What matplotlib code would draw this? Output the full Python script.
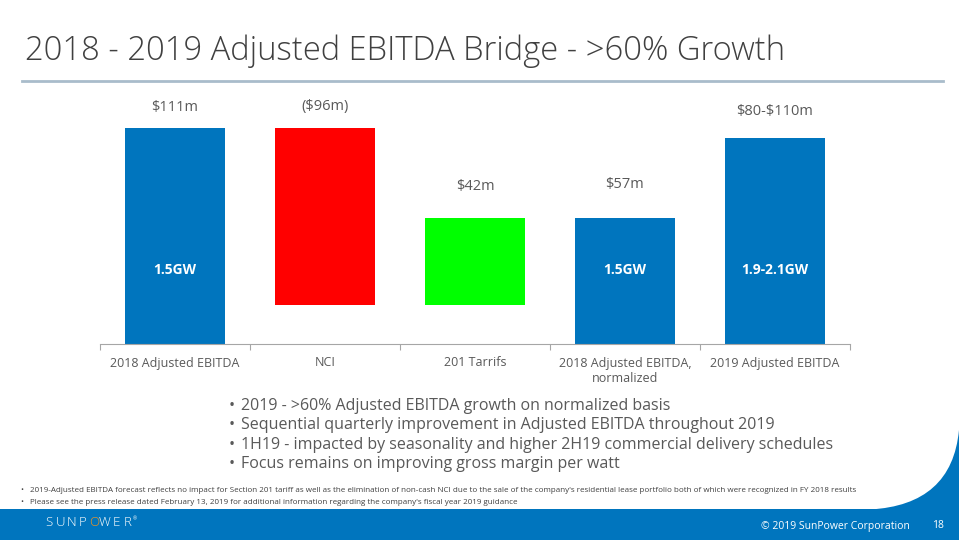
import matplotlib
matplotlib.use("Agg")
import matplotlib.pyplot as plt
from matplotlib.path import Path
from matplotlib.patches import PathPatch, Rectangle
import numpy as np

plt.rcParams['font.family'] = ['Open Sans', 'DejaVu Sans']

categories = ['2018 Adjusted EBITDA', 'NCI', '201 Tarrifs',
              '2018 Adjusted EBITDA,\nnormalized', '2019 Adjusted EBITDA']
bar_bottom = [0, 20, 20, 0, 0]
bar_top = [111, 111, 65, 65, 106]
value_labels = [r'\$111m', r'(\$96m)', r'\$42m', r'\$57m', r'\$80-\$110m']
inner_labels = ['1.5GW', '', '', '1.5GW', '1.9-2.1GW']
bullets = [
    '2019 - >60% Adjusted EBITDA growth on normalized basis',
    'Sequential quarterly improvement in Adjusted EBITDA throughout 2019',
    '1H19 - impacted by seasonality and higher 2H19 commercial delivery schedules',
    'Focus remains on improving gross margin per watt',
]
footnotes = [
    "2019-Adjusted EBITDA forecast reflects no impact for Section 201 tariff as well as the elimination of non-cash NCI due to the sale of the company's residential lease portfolio both of which were recognized in FY 2018 results",
    "Please see the press release dated February 13, 2019 for additional information regarding the company's fiscal year 2019 guidance",
]

BLUE = '#0075be'
colors = [BLUE, '#ff0000', '#00ff00', BLUE, BLUE]
GREY = '#595959'

W, H = 959, 540
fig = plt.figure(figsize=(W / 100, H / 100), dpi=100)

def fx(px):
    return px / W

def fy(py):
    return 1 - py / H

# title and rule
fig.text(fx(25), fy(51), '2018 - 2019 Adjusted EBITDA Bridge - >60% Growth',
         fontsize=23.6, color='#404040', fontweight='light', va='center', ha='left')
fig.add_artist(plt.Line2D([fx(22), fx(943)], [fy(81), fy(81)], color='#a9bccb', lw=2))

# bridge chart
ymax = 125
ax = fig.add_axes([fx(100), fy(344), fx(750), (ymax * 1.946) / H])
x = np.arange(len(categories))
heights = np.array(bar_top) - np.array(bar_bottom)
ax.bar(x, heights, bottom=bar_bottom, width=0.667, color=colors)
ax.set_xlim(-0.5, len(categories) - 0.5)
ax.set_ylim(0, ymax)

label_offsets = [20, 21, 31, 33, 26]
for i in range(len(categories)):
    ax.annotate(value_labels[i], (x[i], bar_top[i]), xytext=(0, label_offsets[i] * 0.72),
                textcoords='offset points', ha='center', va='center',
                fontsize=10.5, color=GREY)
    if inner_labels[i]:
        ax.text(x[i], 38, inner_labels[i], ha='center', va='center',
                fontsize=10, color='white', fontweight='bold')

for s in ['top', 'right', 'left']:
    ax.spines[s].set_visible(False)
ax.spines['bottom'].set_color('#a6a6a6')
ax.set_yticks([])
ax.set_xticks(np.arange(-0.5, len(categories)), minor=False)
ax.set_xticklabels([])
ax.tick_params(axis='x', length=4, color='#a6a6a6')
ax.set_xticks(x, minor=True)
ax.set_xticklabels(categories, minor=True)
ax.tick_params(axis='x', which='minor', length=0, pad=9, labelsize=9, labelcolor=GREY)

# bullet text
for i, b in enumerate(bullets):
    y = 406 + i * 19.3
    fig.text(fx(229), fy(y), '\u2022', fontsize=11.5, color=GREY, va='center')
    fig.text(fx(241), fy(y), b, fontsize=11.5, color=GREY, va='center')

for i, t in enumerate(footnotes):
    y = 491 + i * 11
    fig.text(fx(20), fy(y), '\u2022', fontsize=5.8, color='#404040', va='center')
    fig.text(fx(30), fy(y), t, fontsize=5.8, color='#404040', va='center')

# footer band and corner curve
fig.add_artist(Rectangle((0, 0), 1, fy(509), transform=fig.transFigure, color=BLUE, lw=0))
verts = [(fx(870), fy(509.5)), (fx(952), fy(505)), (fx(959), fy(430)),
         (fx(960), fy(430)), (fx(960), fy(510)), (fx(870), fy(510))]
codes = [Path.MOVETO, Path.CURVE3, Path.CURVE3, Path.LINETO, Path.LINETO, Path.CLOSEPOLY]
fig.add_artist(PathPatch(Path(verts, codes), transform=fig.transFigure,
                         facecolor=BLUE, edgecolor='none'))

logo = 'SUNPOWER'
for k, ch in enumerate(logo):
    c = '#f7941d' if k == 4 else 'white'
    fig.text(fx(49 + k * 11.2), fy(523), ch, fontsize=9.5, color=c, va='center',
             ha='center', fontweight='light')
fig.text(fx(133), fy(519), '\u00ae', fontsize=3.5, color='white', va='center')

fig.text(fx(910), fy(526), '\u00a9 2019 SunPower Corporation', fontsize=7.5,
         color='white', va='center', ha='right')
fig.text(fx(938), fy(525), '18', fontsize=7.5, color='white', va='center', ha='center')

fig.savefig('out.png', dpi=100)
